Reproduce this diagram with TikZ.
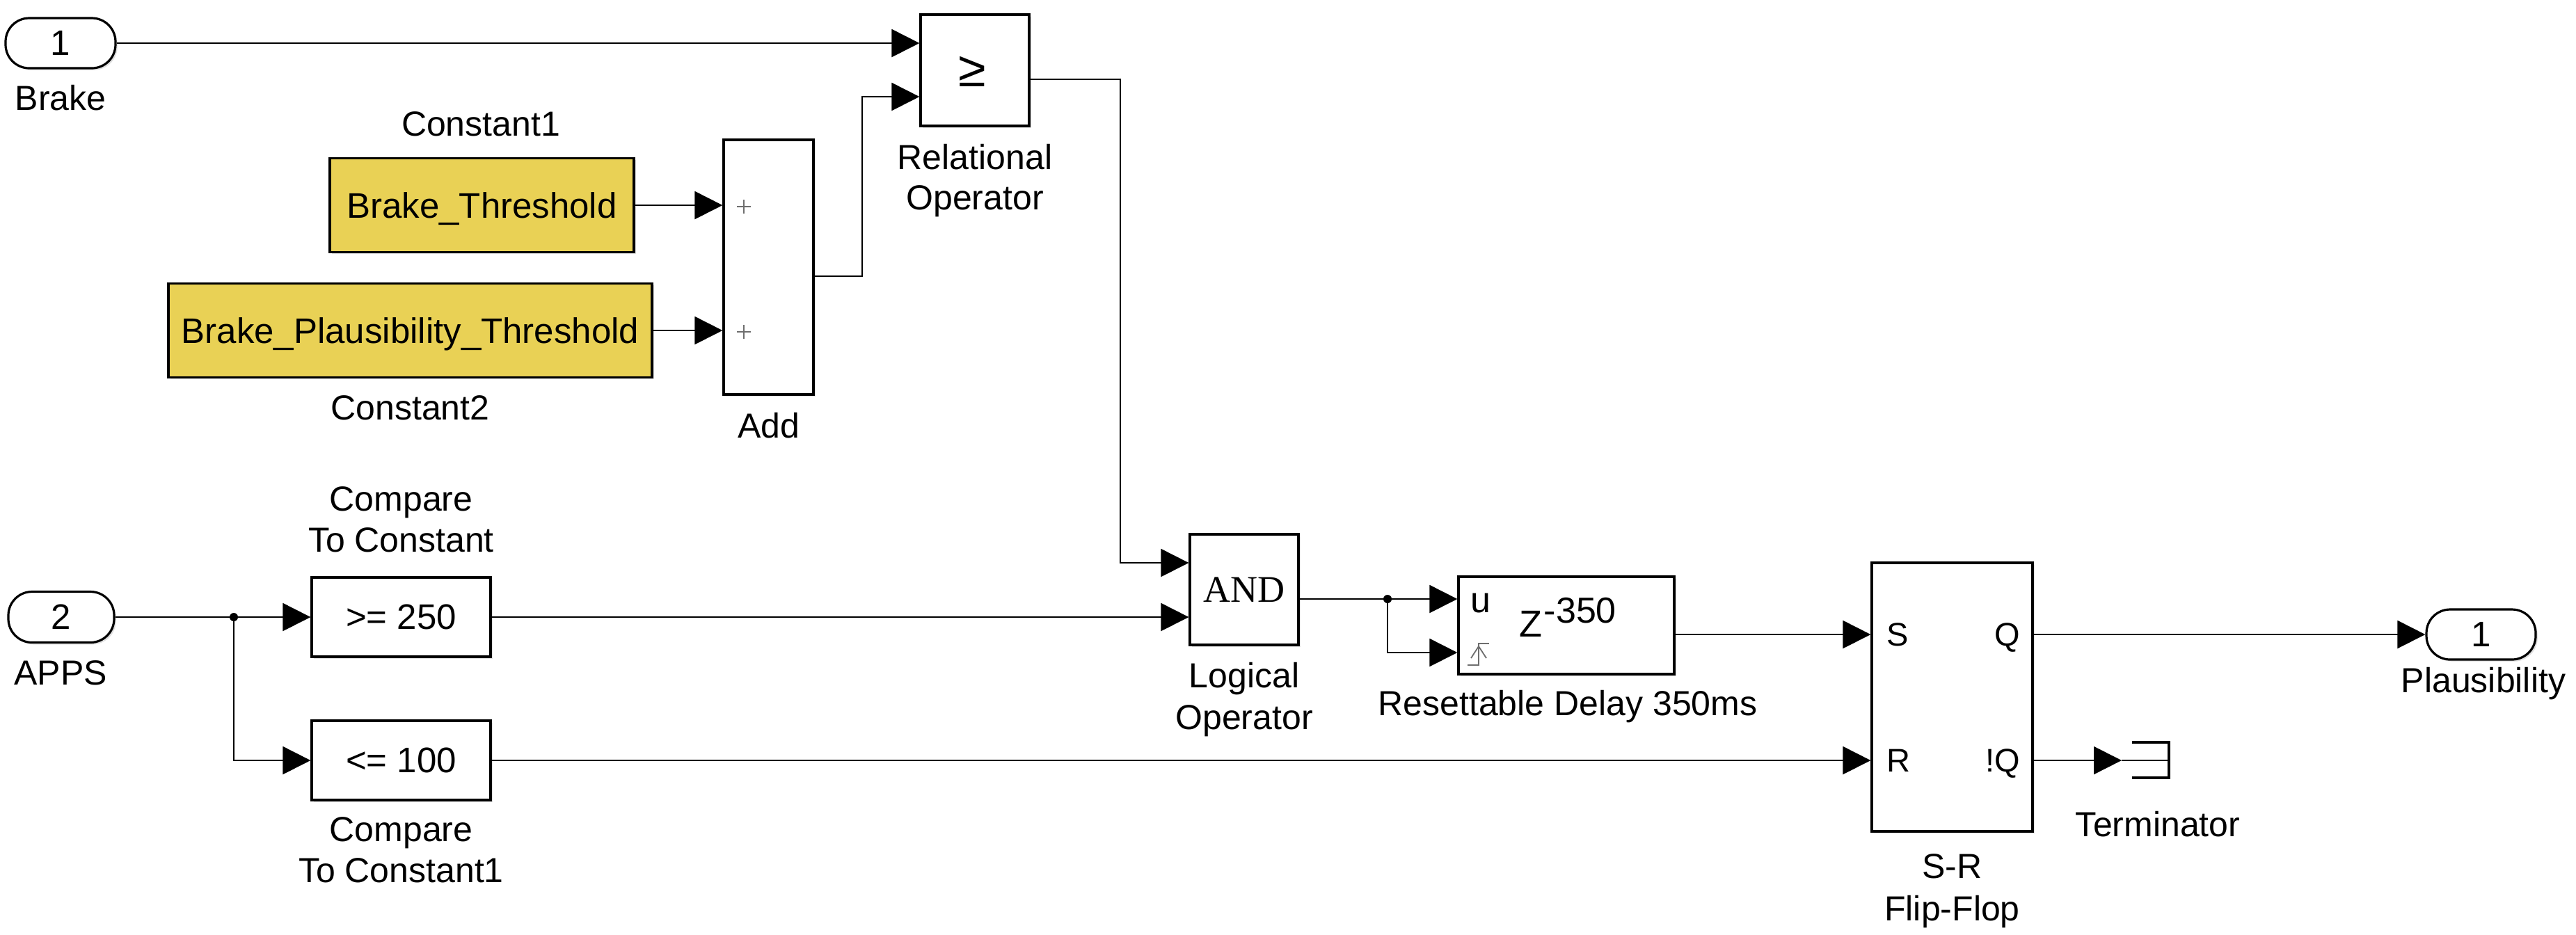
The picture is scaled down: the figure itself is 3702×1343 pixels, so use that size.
\documentclass[tikz,border=0pt]{standalone}
\usepackage{fontspec}
\setmainfont{Liberation Sans}
\newfontfamily\andfont{Liberation Serif}
\usetikzlibrary{arrows.meta,shadows}
\definecolor{constyellow}{RGB}{233,209,85}
\definecolor{icongray}{RGB}{110,110,110}
\begin{document}
\begin{tikzpicture}[x=0.25pt,y=-0.25pt,
  blk/.style={draw=black, line width=0.8pt, fill=white, inner sep=0pt, text depth=0pt,
    font=\fontsize{12.75}{15}\selectfont,
    drop shadow={shadow xshift=0.7pt,shadow yshift=-0.7pt,opacity=0.25}},
  port/.style={blk, rounded corners=8.5pt},
  lbl/.style={anchor=base, inner sep=0pt, font=\fontsize{12.5}{15}\selectfont},
  intxt/.style={inner sep=0pt, font=\fontsize{11.75}{14}\selectfont},
  conn/.style={line width=0.5pt},
  sig/.style={conn, -{Triangle[length=10pt,width=10pt]}},
  icon/.style={icongray, line width=0.45pt},
]
\useasboundingbox (0,0) rectangle (3702,1343);
\fill[white] (0,0) rectangle (3702,1343);

% blocks
\node[port, minimum width=39.5pt, minimum height=18pt] (in1) at (87,62) {1};
\node[blk, minimum width=39pt, minimum height=40pt] (rel) at (1401,101) {};
\node[anchor=center, inner sep=0pt, font=\fontsize{18}{20}\selectfont] (relsym) at (1397,103) {≥};
\node[blk, fill=constyellow, minimum width=109.25pt, minimum height=33.75pt] (bt) at (692.5,295) {Brake\_Threshold};
\node[blk, fill=constyellow, minimum width=173.75pt, minimum height=33.75pt] (bpt) at (589.5,475) {Brake\_Plausibility\_Threshold};
\node[blk, minimum width=32.25pt, minimum height=91.5pt] (add) at (1104.5,384) {};
\node[port, minimum width=38pt, minimum height=18.25pt] (in2) at (88,887) {2};
\node[blk, minimum width=64.25pt, minimum height=28.5pt] (cmp1) at (576.5,887) {>= 250};
\node[blk, minimum width=64.25pt, minimum height=28.5pt] (cmp2) at (576.5,1093) {<= 100};
\node[blk, minimum width=39pt, minimum height=39.75pt, font=\andfont\fontsize{13.5}{15}\selectfont] (and) at (1788,847.5) {AND};
\node[blk, minimum width=77.5pt, minimum height=35pt] (delay) at (2251,899) {};
\node[blk, minimum width=57.75pt, minimum height=96.5pt] (sr) at (2805.5,1002) {};
\node[port, minimum width=39.25pt, minimum height=18pt] (out) at (3565.5,912) {1};

% add signs
\draw[icon] (1059,297) -- (1079,297) (1069,287) -- (1069,307);
\draw[icon] (1059,477) -- (1079,477) (1069,467) -- (1069,487);

% delay contents
\node[anchor=base west, inner sep=0pt, font=\fontsize{13}{15}\selectfont] (du) at (2113,880) {u};
\node[anchor=base west, inner sep=0pt, font=\fontsize{13.5}{15}\selectfont] (dz) at (2183,915) {Z};
\node[anchor=base west, inner sep=0pt, font=\fontsize{13}{15}\selectfont] (dexp) at (2218,895) {-350};
\draw[icon] (2109,956) -- (2125,956) -- (2125,925) -- (2140,925);
\draw[icon] (2114,946) -- (2125,929) -- (2136,946);

% flip-flop contents
\node[intxt, anchor=base west] (srS) at (2711,928) {S};
\node[intxt, anchor=base west] (srR) at (2711,1109) {R};
\node[intxt, anchor=base east] (srQ) at (2904,928) {Q};
\node[intxt, anchor=base east] (srNQ) at (2904,1109) {!Q};

% terminator
\coordinate (termin) at (3049,1093);
\draw[line width=0.8pt] (3064,1067) -- (3117,1067) -- (3117,1118) -- (3064,1118);
\draw[conn] (termin) -- (3117,1093);

% junctions
\coordinate (j1) at (336,887);
\coordinate (j2) at (1994,861);
\fill (j1) circle (1.5pt);
\fill (j2) circle (1.5pt);

% connectors
\draw[sig] (in1.east) -- ([yshift=9.75pt]rel.west);
\draw[sig] (bt.east) -- (bt.east -| add.west);
\draw[sig] (bpt.east) -- (bpt.east -| add.west);
\draw[sig] ([yshift=-3.25pt]add.east) -- ++(68,0) |- ([yshift=-9.5pt]rel.west);
\draw[sig] ([yshift=-3.25pt]rel.east) -- ++(129,0) |- ([yshift=9.625pt]and.west);
\draw[conn] (in2.east) -- (j1);
\draw[sig] (j1) -- (cmp1.west);
\draw[sig] (j1) |- (cmp2.west);
\draw[sig] (cmp1.east) -- (cmp1.east -| and.west);
\draw[conn] ([yshift=-3.375pt]and.east) -- (j2);
\draw[sig] (j2) -- ([yshift=9.5pt]delay.west);
\draw[sig] (j2) |- ([yshift=-9.75pt]delay.west);
\draw[sig] ([yshift=-3.25pt]delay.east) -- ([yshift=22.5pt]sr.west);
\draw[sig] (cmp2.east) -- (cmp2.east -| sr.west);
\draw[sig] ([yshift=22.5pt]sr.east) -- (out.west);
\draw[sig] ([yshift=-22.75pt]sr.east) -- (termin);

% labels
\node[lbl] (lbrake) at (87,158) {Brake};
\node[lbl] (lc1) at (691,195) {Constant1};
\node[lbl] (lrelA) at (1401,243) {Relational};
\node[lbl] (lrelB) at (1401,301) {Operator};
\node[lbl] (lc2) at (589.5,603) {Constant2};
\node[lbl] (ladd) at (1104.5,629) {Add};
\node[lbl] (lcmpA) at (576.5,734) {Compare};
\node[lbl] (lcmpB) at (576.5,793) {To Constant};
\node[lbl] (lapps) at (87,984) {APPS};
\node[lbl] (lcmp2A) at (576.5,1209) {Compare};
\node[lbl] (lcmp2B) at (576.5,1268) {To Constant1};
\node[lbl] (landA) at (1788,988) {Logical};
\node[lbl] (landB) at (1788,1048) {Operator};
\node[lbl] (ldelay) at (2253,1028) {Resettable Delay 350ms};
\node[lbl] (lout) at (3569,995) {Plausibility};
\node[lbl] (lterm) at (3101,1202) {Terminator};
\node[lbl] (lsrA) at (2805.5,1262) {S-R};
\node[lbl] (lsrB) at (2805.5,1323) {Flip-Flop};
\end{tikzpicture}
\end{document}
